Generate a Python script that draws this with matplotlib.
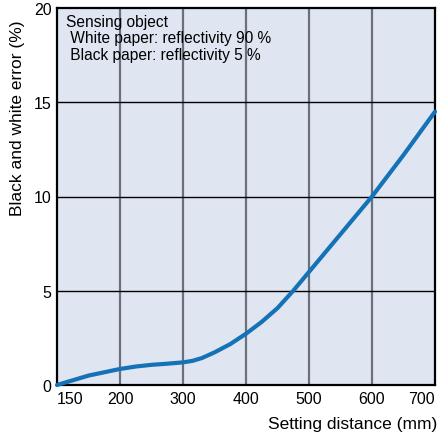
import numpy as np
import matplotlib.pyplot as plt

# setting distance (mm) vs black and white error (%)
distance = [150, 160, 175, 200, 225, 250, 275, 300, 315, 330, 350, 375, 400, 425, 450, 475, 500, 550, 600, 650, 700]
error = [0.0, 0.2, 0.5, 0.85, 0.98, 1.07, 1.13, 1.2, 1.28, 1.43, 1.73, 2.17, 2.72, 3.35, 4.08, 5.0, 6.0, 8.0, 10.0, 12.2, 14.5]

xticks = [150, 200, 300, 400, 500, 600, 700]
yticks = [0, 5, 10, 15, 20]

plt.rcParams["font.family"] = ["Liberation Sans", "DejaVu Sans"]
plt.rcParams["font.size"] = 11.5

# first segment 150-200 drawn as wide as the 100 mm steps
def fwd(x):
    x = np.asarray(x, dtype=float)
    return np.where(x < 200, 200 - (200 - x) * 2, x)

def inv(x):
    x = np.asarray(x, dtype=float)
    return np.where(x < 200, 200 - (200 - x) / 2, x)

fig = plt.figure(dpi=100, figsize=(4.42, 4.39))
ax = fig.add_axes([57/442, 53/439, 378/442, 377/439])
ax.set_xscale("function", functions=(fwd, inv))
ax.set_facecolor("#dfe6f2")

for xv in xticks[1:-1]:
    ax.axvline(xv, color="#6b7079", lw=1.6, zorder=1)
for yv in yticks[1:-1]:
    ax.axhline(yv, color="black", lw=1.0, zorder=1)

ax.plot(distance, error, color="#1572b6", lw=3, solid_capstyle="round",
        solid_joinstyle="round", zorder=3, clip_on=False)

ax.set_xlim(150, 700)
ax.set_ylim(0, 20)
ax.set_xticks(xticks)
ax.set_xticklabels([str(v) for v in xticks])
ax.set_yticks(yticks)
ax.tick_params(length=0, pad=4)
labs = ax.get_xticklabels()
labs[0].set_horizontalalignment("left")
labs[-1].set_horizontalalignment("right")
for s in ax.spines.values():
    s.set_linewidth(1.6)

fig.text(18/442, 1 - 20/439, "Black and white error (%)", rotation=90,
         ha="center", va="top", fontsize=12.5)
fig.text(437/442, 1 - 425/439, "Setting distance (mm)", ha="right", va="center", fontsize=12.5)

ax.text(0.025, 0.985, "Sensing object\n White paper: reflectivity 90 %\n Black paper: reflectivity 5 %",
        transform=ax.transAxes, ha="left", va="top", linespacing=1.15, fontsize=11.2)

plt.savefig("out.png")
